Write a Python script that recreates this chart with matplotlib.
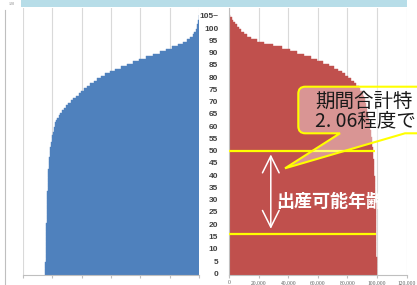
import numpy as np
import matplotlib
matplotlib.use("Agg")
import matplotlib.pyplot as plt
import matplotlib.transforms as mtransforms
import matplotlib.patches as mpatches
from matplotlib.path import Path

plt.rcParams['font.family'] = ['Noto Sans CJK JP', 'DejaVu Sans']

# 年齢 0〜105~（各年齢の生存数, 出生10万人あたり）
ages = list(range(106))
age_labels = [str(a) for a in range(0, 105, 5)] + ['105~']

male = [100000, 99780, 99740, 99710, 99680, 99650, 99630, 99610, 99590, 99570,
        99550, 99530, 99510, 99480, 99440, 99400, 99340, 99270, 99200, 99120,
        99050, 99000, 98950, 98900, 98850, 98800, 98750, 98700, 98650, 98600,
        98550, 98500, 98450, 98400, 98350, 98300, 98250, 98190, 98130, 98070,
        98000, 97910, 97810, 97700, 97580, 97450, 97310, 97160, 97000, 96850,
        96700, 96500, 96280, 96040, 95780, 95500, 95180, 94830, 94450, 94090,
        93700, 93200, 92600, 91950, 91150, 90200, 89000, 87700, 86300, 84800,
        83200, 81600, 79900, 78200, 76400, 74500, 72600, 70600, 68500, 66300,
        64000, 61000, 57800, 54400, 50800, 47000, 43000, 38800, 34500, 30000,
        25500, 21300, 17400, 14000, 10800, 8000, 6000, 4400, 3200, 2300,
        1700, 1250, 900, 650, 500, 400]

female = [100000, 99800, 99770, 99750, 99730, 99710, 99695, 99680, 99665, 99650,
          99630, 99610, 99590, 99570, 99550, 99520, 99490, 99460, 99420, 99380,
          99340, 99300, 99260, 99220, 99180, 99140, 99100, 99060, 99010, 98960,
          98910, 98860, 98800, 98740, 98680, 98620, 98560, 98490, 98420, 98340,
          98260, 98170, 98080, 97980, 97880, 97770, 97660, 97540, 97420, 97290,
          97150, 97000, 96850, 96690, 96520, 96340, 96150, 95950, 95740, 95520,
          95290, 95050, 94790, 94520, 94230, 93900, 93580, 93250, 92900, 92520,
          92100, 91650, 91150, 90550, 89700, 88700, 87600, 86100, 84500, 82600,
          80600, 78600, 76300, 73700, 70600, 67400, 63700, 59500, 55200, 50600,
          45800, 41000, 35500, 29500, 23500, 18500, 14800, 12200, 10000, 8200,
          6600, 5200, 3900, 2800, 1700, 800]

x_ticks = [0, 20000, 40000, 60000, 80000, 100000, 120000]
BLUE = '#4f81bd'
RED = '#c0504d'
GRID = '#d9d9d9'

W, H = 417, 285
fig = plt.figure(figsize=(4.17, 2.85), dpi=100)
# ピクセル座標（左上原点）用の変換
px = mtransforms.Affine2D().scale(1 / 100, -1 / 100).translate(0, 2.85) + fig.dpi_scale_trans


def frac(x0, y0, x1, y1):
    return [x0 / W, 1 - y1 / H, (x1 - x0) / W, (y1 - y0) / H]


# 上部の帯とフレーム
fig.patches.append(mpatches.Rectangle((20.7, 0), 386.5, 6.7, transform=px,
                                      facecolor='#b7dde8', edgecolor='none'))
fig.lines.append(plt.Line2D([4.5, 4.5], [10, 285], transform=px, color='#bfbfbf', lw=0.8))
fig.text(12 / W, 1 - 4 / H, '120', fontsize=3, color='#7f7f7f', ha='center', va='center',
         family='Liberation Serif')

# 男性（左）
axL = fig.add_axes(frac(22.7, 8, 199.3, 274.5))
left_max = 114450
axL.barh(ages, male, height=1.0, color=BLUE, edgecolor=BLUE, linewidth=0.3, zorder=2)
axL.set_xlim(left_max, 0)
axL.set_ylim(-0.5, 108.2)
axL.set_xticks(np.linspace(0, left_max, 7))
axL.set_yticks([])
axL.grid(axis='x', color=GRID, lw=0.8, zorder=0)
axL.set_axisbelow(True)
for s in ['top', 'right', 'left']:
    axL.spines[s].set_visible(False)
axL.spines['bottom'].set_color('#bfbfbf')
axL.spines['bottom'].set_linewidth(0.8)
axL.tick_params(axis='x', length=2, color='#bfbfbf', labelbottom=False)

# 女性（右）
axR = fig.add_axes(frac(229.3, 8, 406.5, 274.5))
axR.barh(ages, female, height=1.0, color=RED, edgecolor=RED, linewidth=0.3, zorder=2)
axR.set_xlim(0, 120000)
axR.set_ylim(-0.5, 108.2)
axR.set_xticks(x_ticks)
axR.set_xticklabels([f'{v:,}' for v in x_ticks], family='Liberation Serif',
                    fontsize=4, color='#595959')
axR.set_yticks(list(range(0, 106, 5)))
axR.set_yticklabels(age_labels, family='Liberation Sans', fontsize=6,
                    fontweight='bold', color='#404040')
axR.grid(axis='x', color=GRID, lw=0.8, zorder=0)
axR.set_axisbelow(True)
for s in ['top', 'right']:
    axR.spines[s].set_visible(False)
for s in ['bottom', 'left']:
    axR.spines[s].set_color('#bfbfbf')
    axR.spines[s].set_linewidth(0.8)
axR.tick_params(axis='y', length=0, pad=8)
axR.tick_params(axis='x', length=2, color='#bfbfbf', pad=2)

# 出産可能年齢の範囲
axR.plot([0, 98800], [50, 50], color='#ffff00', lw=1.6, zorder=4, solid_capstyle='butt')
axR.plot([0, 99500], [16, 16], color='#ffff00', lw=1.6, zorder=4, solid_capstyle='butt')
axR.annotate('', xy=(28100, 49.6), xytext=(28100, 17.0),
             arrowprops=dict(arrowstyle='<->,head_length=1.2,head_width=0.6',
                             color='white', lw=1.1), zorder=5)
axR.text(31500, 29.2, '出産可能年齢', color='white', fontsize=13, fontweight='bold',
         va='center', ha='left', zorder=6)

# 吹き出し
L, T, R, B, r = 298.3, 86.7, 470, 133.3, 7
verts = [(L + r, T), (R - r, T), (R, T), (R, T + r), (R, B - r), (R, B), (R - r, B),
         (405, B), (285, 168.3), (340, B), (L + r, B), (L, B), (L, B - r),
         (L, T + r), (L, T), (L + r, T), (L + r, T)]
codes = [Path.MOVETO, Path.LINETO, Path.CURVE3, Path.CURVE3, Path.LINETO, Path.CURVE3,
         Path.CURVE3, Path.LINETO, Path.LINETO, Path.LINETO, Path.LINETO, Path.CURVE3,
         Path.CURVE3, Path.LINETO, Path.CURVE3, Path.CURVE3, Path.CLOSEPOLY]
callout = mpatches.PathPatch(Path(verts, codes), transform=px, facecolor=(1, 1, 1, 0.4),
                             edgecolor='#ffff00', lw=1.5, zorder=10)
fig.patches.append(callout)
fig.text(315 / W, 1 - 101.7 / H, '期間合計特', fontsize=14, color='#1a1a1a',
         ha='left', va='center', zorder=11)
fig.text(315 / W, 1 - 121.7 / H, '2. 06程度で', fontsize=14, color='#1a1a1a',
         ha='left', va='center', zorder=11)

fig.savefig('out.png', dpi=100)
